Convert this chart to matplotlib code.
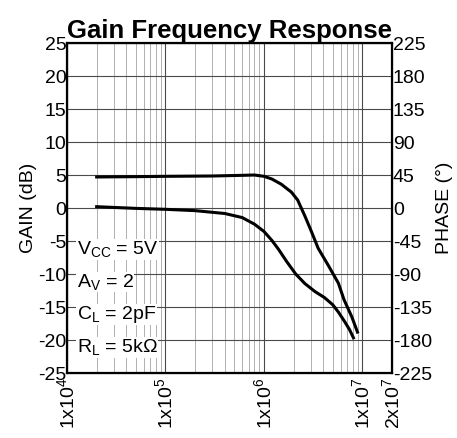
import matplotlib
matplotlib.use("Agg")
import matplotlib.pyplot as plt

plt.rcParams["font.family"] = ["Liberation Sans", "DejaVu Sans"]
plt.rcParams["mathtext.fontset"] = "custom"
plt.rcParams["mathtext.rm"] = "Liberation Sans"
plt.rcParams["mathtext.it"] = "Liberation Sans:italic"

# gain curve (dB)
gain_freq = [2.0e4, 5e4, 1e5, 3e5, 6e5, 8e5, 1.0e6, 1.2e6, 1.5e6, 1.9e6, 2.2e6,
             2.6e6, 3.0e6, 3.55e6, 4.5e6, 5.7e6, 6.5e6, 7.8e6, 8.9e6]
gain_db = [4.7, 4.75, 4.8, 4.85, 4.95, 5.0, 4.8, 4.4, 3.6, 2.4, 1.2,
           -1.2, -3.4, -6.1, -8.7, -11.4, -13.9, -16.5, -18.8]

# phase curve (degrees)
phase_freq = [2.0e4, 5e4, 1e5, 2e5, 4e5, 6e5, 8e5, 1.0e6, 1.2e6, 1.4e6, 1.7e6,
              2.1e6, 2.6e6, 3.3e6, 4.1e6, 5.0e6, 5.7e6, 6.6e6, 7.4e6, 8.1e6]
phase_deg = [1.8, -0.5, -1.8, -3.6, -7.5, -13, -22, -32, -44, -56, -73,
             -90, -103, -114, -122, -132, -142, -155, -166, -177]

xticks = [1e4, 1e5, 1e6, 1e7, 2e7]
xlabels = [r"1x10$^{4}$", r"1x10$^{5}$", r"1x10$^{6}$", r"1x10$^{7}$", r"2x10$^{7}$"]
gain_ticks = [25, 20, 15, 10, 5, 0, -5, -10, -15, -20, -25]
phase_ticks = [225, 180, 135, 90, 45, 0, -45, -90, -135, -180, -225]

fig = plt.figure(figsize=(4.57, 4.38), dpi=100)
ax = fig.add_axes([0.1466, 0.1484, 0.7114, 0.7534])

ax.set_xscale("log")
ax.set_xlim(1e4, 2e7)
ax.set_ylim(-25, 25)
ax.set_xticks(xticks)
ax.set_xticklabels(xlabels, rotation=90, fontsize=14)
ax.set_yticks(gain_ticks)
ax.set_yticklabels([str(t) for t in gain_ticks], fontsize=14)
ax.tick_params(axis="y", length=0, pad=0.5)
ax.tick_params(axis="x", length=0, pad=3)
ax.tick_params(axis="x", which="minor", length=0)

ax.grid(True, which="major", color="#4a4a4a", linewidth=0.8)
ax.grid(True, which="minor", axis="x", color="#b0b0b0", linewidth=0.7)
ax.set_axisbelow(True)

for s in ax.spines.values():
    s.set_linewidth(1.6)
    s.set_color("black")

ax.plot(gain_freq, gain_db, color="black", linewidth=2.2, zorder=3)

ax2 = ax.twinx()
ax2.set_ylim(-225, 225)
ax2.set_yticks(phase_ticks)
ax2.set_yticklabels([str(t) for t in phase_ticks], fontsize=14)
ax2.tick_params(axis="y", length=0, pad=0.5)
ax2.plot(phase_freq, phase_deg, color="black", linewidth=2.2, zorder=3)

ax.set_ylabel("GAIN (dB)", fontsize=14, labelpad=1)
ax2.set_ylabel("PHASE (°)", fontsize=14, labelpad=3)
ax.set_title("Gain Frequency Response", fontsize=18.5, fontweight="bold", pad=2)

notes = [r"V$_{\mathregular{CC}}$ = 5V", r"A$_{\mathregular{V}}$ = 2",
         r"C$_{\mathregular{L}}$ = 2pF", r"R$_{\mathregular{L}}$ = 5k$\Omega$"]
for i, t in enumerate(notes):
    ax.text(0.03, 0.375 - i * 0.099, t, transform=ax.transAxes, fontsize=14,
            va="center", ha="left",
            bbox=dict(facecolor="white", edgecolor="none", pad=0.3))

fig.savefig("out.png", dpi=100)
